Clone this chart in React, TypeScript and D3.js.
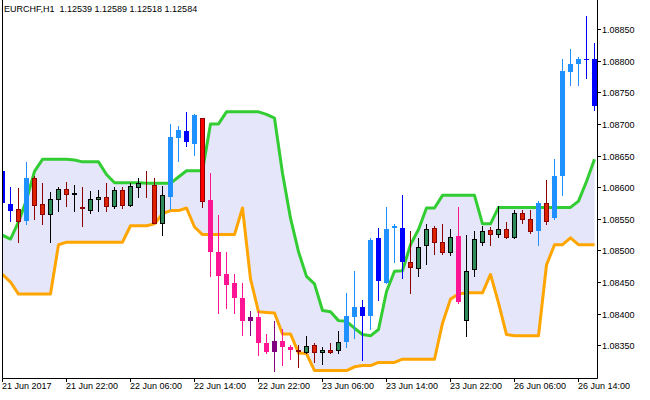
import React from 'react';
import * as d3 from 'd3';

const title = 'EURCHF,H1  1.12539 1.12589 1.12518 1.12584';

const opens = [
  1.08625, 1.08574, 1.08566, 1.08546, 1.08615, 1.08573, 1.08557, 1.08581, 1.08597, 1.08589,
  1.08568, 1.08564, 1.08581, 1.08584, 1.08570, 1.08596, 1.08571, 1.08600, 1.08596, 1.08603,
  1.08544, 1.08585, 1.08677, 1.08688, 1.08669, 1.08709, 1.08580, 1.08497, 1.08462, 1.08449,
  1.08424, 1.08388, 1.08394, 1.08354, 1.08339, 1.08357, 1.08348, 1.08342, 1.08339, 1.08351,
  1.08339, 1.08343, 1.08342, 1.08356, 1.08394, 1.08411, 1.08396, 1.08519, 1.08449, 1.08536,
  1.08536, 1.08481, 1.08472, 1.08509, 1.08535, 1.08513, 1.08497, 1.08523, 1.08390, 1.08471,
  1.08513, 1.08533, 1.08526, 1.08534, 1.08521, 1.08559, 1.08550, 1.08530, 1.08575, 1.08551,
  1.08617, 1.08782, 1.08794, 1.08802, 1.08802,
];
const highs = [
  1.08628, 1.08601, 1.08599, 1.08639, 1.08618, 1.08606, 1.08592, 1.08601, 1.08608, 1.08604,
  1.08601, 1.08594, 1.08596, 1.08606, 1.08601, 1.08601, 1.08606, 1.08615, 1.08626, 1.08615,
  1.08602, 1.08700, 1.08696, 1.08719, 1.08715, 1.08710, 1.08622, 1.08556, 1.08497, 1.08462,
  1.08448, 1.08405, 1.08405, 1.08368, 1.08389, 1.08375, 1.08351, 1.08351, 1.08365, 1.08354,
  1.08347, 1.08354, 1.08373, 1.08433, 1.08468, 1.08422, 1.08519, 1.08536, 1.08568, 1.08542,
  1.08587, 1.08530, 1.08519, 1.08542, 1.08539, 1.08541, 1.08534, 1.08568, 1.08525, 1.08530,
  1.08539, 1.08537, 1.08570, 1.08545, 1.08564, 1.08564, 1.08564, 1.08578, 1.08612, 1.08645,
  1.08802, 1.08819, 1.08805, 1.08870, 1.08828,
];
const lows = [
  1.08572, 1.08547, 1.08513, 1.08542, 1.08549, 1.08541, 1.08513, 1.08562, 1.08570, 1.08563,
  1.08538, 1.08559, 1.08563, 1.08562, 1.08567, 1.08567, 1.08570, 1.08585, 1.08585, 1.08543,
  1.08524, 1.08566, 1.08642, 1.08665, 1.08651, 1.08569, 1.08459, 1.08401, 1.08409, 1.08401,
  1.08367, 1.08367, 1.08335, 1.08338, 1.08309, 1.08319, 1.08328, 1.08316, 1.08338, 1.08324,
  1.08321, 1.08338, 1.08338, 1.08348, 1.08362, 1.08327, 1.08376, 1.08422, 1.08448, 1.08481,
  1.08457, 1.08432, 1.08460, 1.08479, 1.08495, 1.08495, 1.08492, 1.08417, 1.08364, 1.08459,
  1.08508, 1.08508, 1.08521, 1.08520, 1.08519, 1.08544, 1.08528, 1.08508, 1.08542, 1.08550,
  1.08588, 1.08762, 1.08762, 1.08772, 1.08722,
];
const closes = [
  1.08575, 1.08563, 1.08547, 1.08615, 1.08571, 1.08557, 1.08581, 1.08597, 1.08589, 1.08590,
  1.08567, 1.08581, 1.08584, 1.08570, 1.08596, 1.08571, 1.08602, 1.08606, 1.08595, 1.08544,
  1.08588, 1.08679, 1.08691, 1.08671, 1.08714, 1.08578, 1.08497, 1.08459, 1.08445, 1.08424,
  1.08388, 1.08394, 1.08354, 1.08339, 1.08357, 1.08348, 1.08342, 1.08341, 1.08349, 1.08339,
  1.08343, 1.08340, 1.08355, 1.08397, 1.08411, 1.08396, 1.08517, 1.08451, 1.08534, 1.08539,
  1.08481, 1.08473, 1.08505, 1.08534, 1.08513, 1.08497, 1.08521, 1.08418, 1.08467, 1.08518,
  1.08531, 1.08526, 1.08534, 1.08521, 1.08559, 1.08550, 1.08530, 1.08575, 1.08546, 1.08618,
  1.08783, 1.08795, 1.08803, 1.08801, 1.08728,
];
// n = plain, u = above-band colouring, d = below-band colouring, r = signal red
const states = [
  'u', 'u', 'n', 'u', 'n', 'n', 'n', 'n', 'n', 'n',
  'n', 'n', 'n', 'n', 'n', 'n', 'n', 'n', 'n', 'n',
  'n', 'u', 'u', 'u', 'u', 'r', 'd', 'd', 'd', 'd',
  'd', 'd', 'd', 'd', 'd', 'd', 'd', 'n', 'n', 'n',
  'n', 'n', 'n', 'u', 'u', 'u', 'u', 'u', 'u', 'u',
  'u', 'n', 'n', 'n', 'n', 'n', 'n', 'd', 'n', 'n',
  'n', 'n', 'n', 'n', 'n', 'n', 'n', 'u', 'n', 'u',
  'u', 'u', 'u', 'u', 'u',
];
const upperBand = [
  1.08524, 1.08518, 1.08545, 1.08580, 1.08625, 1.08644, 1.08644, 1.08644, 1.08644, 1.08643,
  1.08640, 1.08640, 1.08640, 1.08620, 1.08607, 1.08607, 1.08607, 1.08607, 1.08606, 1.08606,
  1.08606, 1.08606, 1.08616, 1.08626, 1.08626, 1.08626, 1.08700, 1.08700, 1.08719, 1.08719,
  1.08719, 1.08719, 1.08719, 1.08715, 1.08709, 1.08622, 1.08551, 1.08498, 1.08459, 1.08447,
  1.08405, 1.08403, 1.08389, 1.08388, 1.08377, 1.08367, 1.08365, 1.08375, 1.08435, 1.08467,
  1.08468, 1.08509, 1.08533, 1.08567, 1.08567, 1.08587, 1.08587, 1.08587, 1.08587, 1.08587,
  1.08542, 1.08542, 1.08568, 1.08568, 1.08568, 1.08568, 1.08568, 1.08568, 1.08568, 1.08568,
  1.08568, 1.08568, 1.08578, 1.08609, 1.08644,
];
const lowerBand = [
  1.08462, 1.08450, 1.08431, 1.08431, 1.08431, 1.08431, 1.08431, 1.08509, 1.08513, 1.08513,
  1.08513, 1.08513, 1.08513, 1.08513, 1.08513, 1.08513, 1.08539, 1.08539, 1.08539, 1.08542,
  1.08558, 1.08563, 1.08563, 1.08567, 1.08537, 1.08525, 1.08525, 1.08525, 1.08525, 1.08525,
  1.08567, 1.08455, 1.08403, 1.08402, 1.08401, 1.08368, 1.08368, 1.08338, 1.08337, 1.08310,
  1.08310, 1.08310, 1.08310, 1.08310, 1.08316, 1.08318, 1.08318, 1.08323, 1.08323, 1.08323,
  1.08328, 1.08328, 1.08328, 1.08328, 1.08328, 1.08385, 1.08423, 1.08431, 1.08433, 1.08433,
  1.08433, 1.08462, 1.08417, 1.08367, 1.08365, 1.08365, 1.08365, 1.08365, 1.08477, 1.08509,
  1.08509, 1.08520, 1.08509, 1.08509, 1.08509,
];

const timeTickBars = [0, 8, 16, 24, 32, 40, 48, 56, 64, 72];
const timeTickLabels = [
  '21 Jun 2017', '21 Jun 22:00', '22 Jun 06:00', '22 Jun 14:00', '22 Jun 22:00',
  '23 Jun 06:00', '23 Jun 14:00', '23 Jun 22:00', '26 Jun 06:00', '26 Jun 14:00',
];
const priceTicks = [
  1.0835, 1.084, 1.0845, 1.085, 1.0855, 1.086, 1.0865, 1.087, 1.0875, 1.088, 1.0885,
];

const W = 650;
const H = 400;
const PLOT_LEFT = 2.5;
const PLOT_RIGHT = 597.5;
const PLOT_BOTTOM = 378.5;
const FONT = "'Liberation Sans', Arial, sans-serif";

const x = d3.scaleLinear().domain([0, opens.length - 1]).range([2.5, 2.5 + 8 * (opens.length - 1)]);
const y = d3.scaleLinear().domain([1.0835, 1.0885]).range([345.3, 29]);

const colours: Record<string, { bull: [string, string]; bear: [string, string] }> = {
  n: { bull: ['#2E8B57', '#000000'], bear: ['#DD2200', '#8B0000'] },
  r: { bull: ['#FF0000', '#8B0000'], bear: ['#FF0000', '#8B0000'] },
  u: { bull: ['#1E90FF', '#1E90FF'], bear: ['#0000FF', '#0000FF'] },
  d: { bull: ['#800080', '#800080'], bear: ['#FF1493', '#FF1493'] },
};

export default function App() {
  const idx = d3.range(opens.length);
  const area = d3
    .area<number>()
    .x((i) => x(i))
    .y0((i) => y(lowerBand[i]))
    .y1((i) => y(upperBand[i]));
  const upperLine = d3
    .line<number>()
    .x((i) => x(i))
    .y((i) => y(upperBand[i]));
  const lowerLine = d3
    .line<number>()
    .x((i) => x(i))
    .y((i) => y(lowerBand[i]));

  return (
    <svg
      width={W}
      height={H}
      viewBox={`0 0 ${W} ${H}`}
      style={{ position: 'absolute', left: 0, top: 0, background: '#ffffff' }}
    >
      <defs>
        <clipPath id="plotClip">
          <rect x={3} y={0} width={PLOT_RIGHT - 3.5} height={PLOT_BOTTOM - 0.5} />
        </clipPath>
      </defs>
      <rect x={0} y={0} width={W} height={H} fill="#ffffff" />
      <g clipPath="url(#plotClip)">
        <path d={area(idx) || ''} fill="#E6E6FA" />
        <path d={upperLine(idx) || ''} fill="none" stroke="#32CD32" strokeWidth={3} strokeLinejoin="round" />
        <path d={lowerLine(idx) || ''} fill="none" stroke="#FFA500" strokeWidth={3} strokeLinejoin="round" />
        {idx.map((i) => {
          const o = opens[i];
          const c = closes[i];
          const bull = c >= o;
          const [fill, edge] = bull ? colours[states[i]].bull : colours[states[i]].bear;
          const cx = x(i);
          const top = Math.round(y(Math.max(o, c)));
          const bot = Math.round(y(Math.min(o, c)));
          const outlined = states[i] === 'n' || states[i] === 'r';
          return (
            <g key={i}>
              <line
                x1={cx}
                x2={cx}
                y1={Math.round(y(highs[i]))}
                y2={Math.round(y(lows[i])) + 1}
                stroke={edge}
                strokeWidth={1}
              />
              {outlined ? (
                <rect
                  x={cx - 2}
                  y={top + 0.5}
                  width={4}
                  height={Math.max(0, bot - top)}
                  fill={fill}
                  stroke={edge}
                  strokeWidth={1}
                />
              ) : (
                <rect x={cx - 2.5} y={top} width={5} height={Math.max(1, bot - top)} fill={fill} />
              )}
            </g>
          );
        })}
      </g>
      {/* frame */}
      <path
        d={`M${PLOT_LEFT},0V${PLOT_BOTTOM}H${PLOT_RIGHT}V0`}
        fill="none"
        stroke="#000000"
        strokeWidth={1}
      />
      {/* price axis */}
      {priceTicks.map((p) => {
        const ty = Math.round(y(p)) + 0.5;
        return (
          <g key={p}>
            <line x1={PLOT_RIGHT} x2={601} y1={ty} y2={ty} stroke="#000000" strokeWidth={1} />
            <text x={602} y={ty + 3.2} fontFamily={FONT} fontSize={9} fill="#000000">
              {p.toFixed(5)}
            </text>
          </g>
        );
      })}
      {/* time axis */}
      {timeTickBars.map((b, j) => {
        const tx = x(b);
        return (
          <g key={b}>
            <line x1={tx} x2={tx} y1={PLOT_BOTTOM} y2={382} stroke="#000000" strokeWidth={1} />
            <text x={tx - 0.5} y={389} fontFamily={FONT} fontSize={9} fill="#000000">
              {timeTickLabels[j]}
            </text>
          </g>
        );
      })}
      <text x={4} y={12} fontFamily={FONT} fontSize={9} fill="#000000" style={{ whiteSpace: 'pre' }}>
        {title}
      </text>
    </svg>
  );
}
